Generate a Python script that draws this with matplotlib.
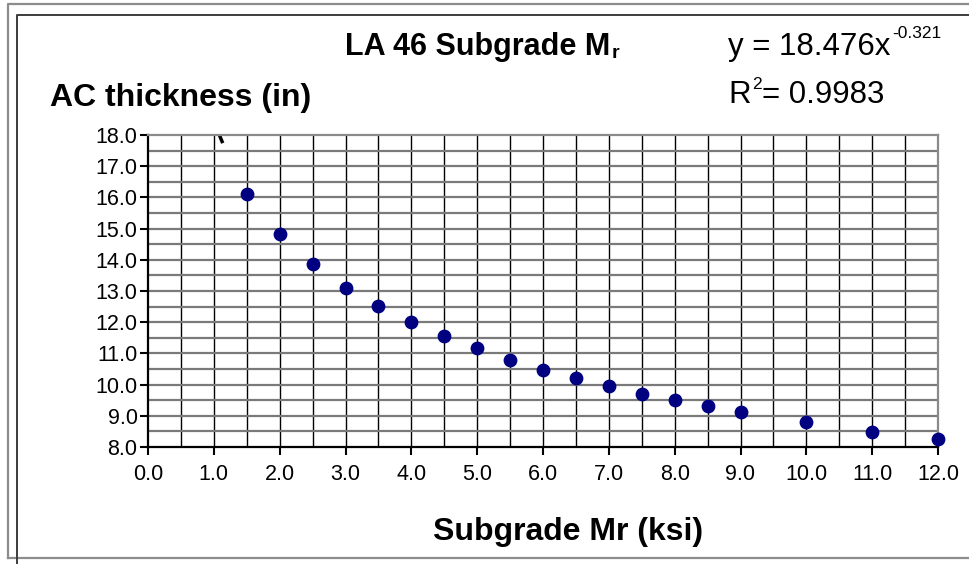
import numpy as np
import matplotlib.pyplot as plt
from matplotlib.lines import Line2D

plt.rcParams['font.family'] = ['Liberation Sans', 'DejaVu Sans']

mr = [1.5, 2.0, 2.5, 3.0, 3.5, 4.0, 4.5, 5.0, 5.5, 6.0, 6.5, 7.0, 7.5, 8.0, 8.5, 9.0, 10.0, 11.0, 12.0]
ac = [16.11, 14.83, 13.87, 13.11, 12.53, 12.01, 11.57, 11.18, 10.79, 10.47, 10.21, 9.96, 9.70, 9.51, 9.31, 9.12, 8.80, 8.48, 8.25]
coef_a = 18.476
coef_b = -0.321
r2 = 0.9983

W, H = 969, 564
fig = plt.figure(figsize=(W / 100, H / 100), dpi=100)
ax = fig.add_axes([148 / W, 1 - 447 / H, 790 / W, 312 / H])

# grid every 0.5, labels every 1
for xv in np.arange(0.5, 12.0, 0.5):
    ax.axvline(xv, color='black', lw=1.0, zorder=1)
for yv in np.arange(8.5, 18.0, 0.5):
    ax.axhline(yv, color='#7a7a7a', lw=1.6, zorder=1)

# short piece of the power trendline visible at the top
xt = np.linspace(1.06, 1.125, 20)
ax.plot(xt, coef_a * xt ** coef_b, color='black', lw=2.5, zorder=2)

ax.scatter(mr, ac, s=80, color='#000080', zorder=3, clip_on=False)

ax.set_xlim(0, 12)
ax.set_ylim(8, 18)
ax.set_xticks(np.arange(0, 13, 1.0))
ax.set_yticks(np.arange(8, 19, 1.0))
ax.set_xticklabels([f'{v:.1f}' for v in np.arange(0, 13, 1.0)])
ax.set_yticklabels([f'{v:.1f}' for v in np.arange(8, 19, 1.0)])
ax.tick_params(direction='out', length=6, width=1.5, color='black', labelsize=15.5)
ax.tick_params(axis='y', pad=1.5)
ax.tick_params(axis='x', pad=6)

for s in ['left', 'bottom']:
    ax.spines[s].set_color('black')
    ax.spines[s].set_linewidth(1.6)
for s in ['top', 'right']:
    ax.spines[s].set_color('#8a8a8a')
    ax.spines[s].set_linewidth(1.6)


def after(txt, s, dy, **kw):
    # put a small text right after another one (sub/superscript)
    return ax.annotate(s, xy=(1, 0), xycoords=txt, xytext=(1, dy), textcoords='offset points',
                       ha='left', va='bottom', annotation_clip=False, **kw)


# titles and trendline equation
t1 = fig.text(345 / W, 1 - 47 / H, 'LA 46 Subgrade M', fontsize=22, fontweight='bold',
              ha='left', va='center')
after(t1, 'r', 0, fontsize=14, fontweight='bold')
t2 = fig.text(728 / W, 1 - 47 / H, f'y = {coef_a:.3f}x', fontsize=22.5, ha='left', va='center')
after(t2, f'-{abs(coef_b):.3f}', 15, fontsize=12.5)
t3 = fig.text(728 / W, 1 - 95 / H, 'R', fontsize=22.5, ha='left', va='center')
t4 = after(t3, '2', 13, fontsize=12.5)
ax.annotate(f'= {r2:.4f}', xy=(1, 0), xycoords=t4, xytext=(0, -13), textcoords='offset points',
            ha='left', va='bottom', fontsize=22.5, annotation_clip=False)
fig.text(50 / W, 1 - 98 / H, 'AC thickness (in)', fontsize=23, fontweight='bold',
         ha='left', va='center')
fig.text(568 / W, 1 - 532 / H, 'Subgrade Mr (ksi)', fontsize=23, fontweight='bold',
         ha='center', va='center')

# chart frames
def fx(x):
    return x / W

def fy(y):
    return 1 - y / H

fig.add_artist(Line2D([fx(8), fx(8), fx(969)], [fy(558), fy(4), fy(4)], color='#8c8c8c', lw=1.6))
fig.add_artist(Line2D([fx(8), fx(969)], [fy(558), fy(558)], color='#8c8c8c', lw=1.6))
fig.add_artist(Line2D([fx(17), fx(17), fx(969)], [fy(564), fy(15), fy(15)], color='#3c3c3c', lw=1.4))

fig.savefig('out.png', dpi=100)
